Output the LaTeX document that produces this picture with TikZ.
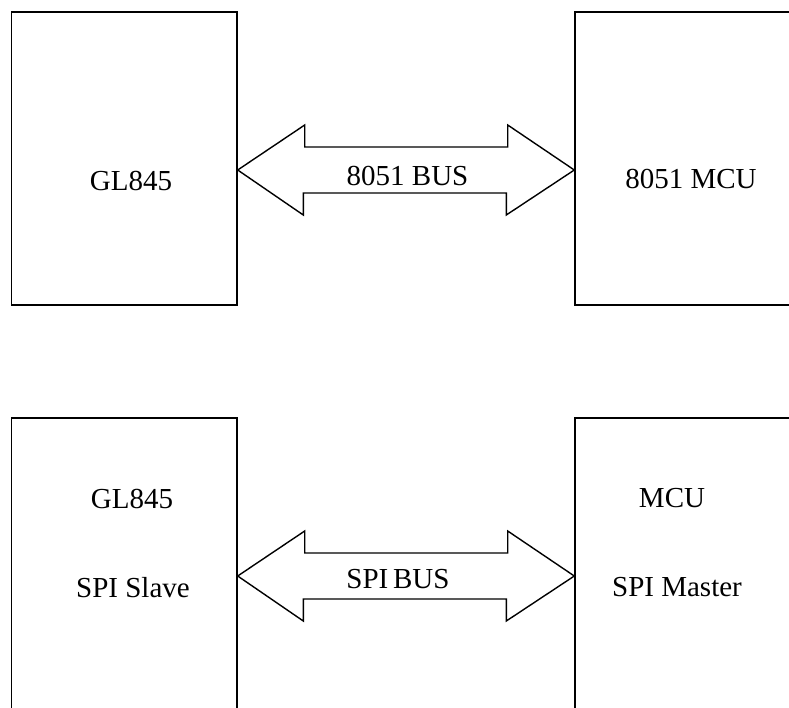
\documentclass[tikz,border=0pt]{standalone}
\usepackage{fontspec}
\setmainfont{Liberation Serif}
\begin{document}
\begin{tikzpicture}[x=1pt,y=-1pt,
  blk/.style={draw,line width=1.4pt,rectangle,inner sep=0pt},
  lbl/.style={anchor=base,inner sep=0pt,font=\fontsize{29}{34}\selectfont},
  busarrow/.style={draw,line width=1.4pt,line join=miter}]
\useasboundingbox (0,0) rectangle (789,707);
\clip (0,0) rectangle (789,707);
% boxes
\node[blk,minimum width=225.5pt,minimum height=293pt] (gla) at (124.25,158.5) {};
\node[blk,minimum width=425pt,minimum height=293pt] (mcua) at (787.5,158.5) {};
\node[blk,minimum width=225.5pt,minimum height=400pt] (glb) at (124.25,618) {};
\node[blk,minimum width=425pt,minimum height=400pt] (mcub) at (787.5,618) {};
% bus arrows
\coordinate (ta) at (gla.east |- 0,170);
\coordinate (tb) at (glb.east |- 0,576);
\draw[busarrow] (ta) -- ++(67,-45) -- ++(0,22) -- ++(203,0) -- ++(0,-22)
  -- (mcua.west |- ta) -- ++(-68,45) -- ++(0,-22) -- ++(-203,0) -- ++(0,22) -- cycle;
\draw[busarrow] (tb) -- ++(67,-45) -- ++(0,22) -- ++(203,0) -- ++(0,-22)
  -- (mcub.west |- tb) -- ++(-68,45) -- ++(0,-22) -- ++(-203,0) -- ++(0,22) -- cycle;
% labels
\node[lbl] (t1) at (131,190) {GL845};
\node[lbl] (t2) at (407.5,185) {8051 BUS};
\node[lbl] (t3) at (691,188) {8051 MCU};
\node[lbl] (t4) at (132,508) {GL845};
\node[lbl] (t5) at (133,597) {SPI Slave};
\node[lbl] (t6) at (398,588) {SPI\,BUS};
\node[lbl] (t7) at (672,507) {MCU};
\node[lbl] (t8) at (677,596) {SPI Master};
\end{tikzpicture}
\end{document}
